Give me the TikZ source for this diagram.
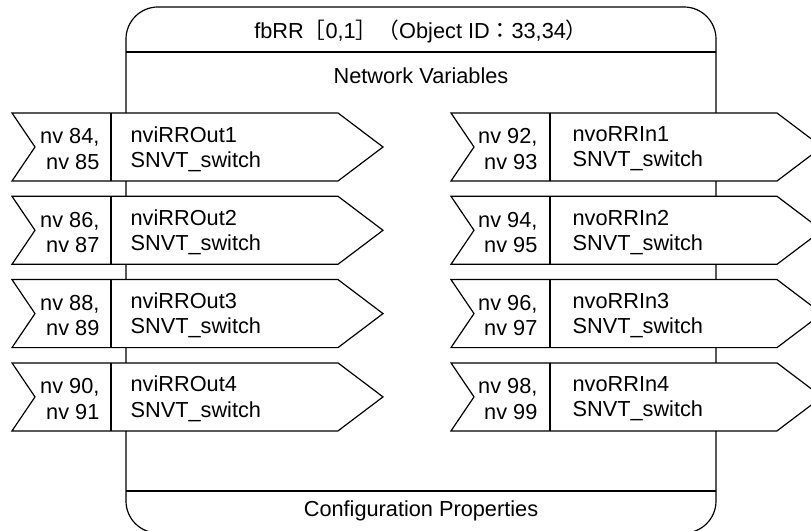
\documentclass[tikz,border=0pt]{standalone}
\usepackage{fontspec}
\setmainfont{Liberation Sans}
\newfontfamily\jpfont{Noto Sans CJK JP}

\def \boxLeft{126}
\def \boxRight{716}
\def \boxTop{7}
\def \boxBottom{533}
\def \boxCenterX{421}
\def \titleLineY{52}
\def \configLineY{491}
\def \rowTop{113}
\def \rowPitch{83.3}
\def \rowHeight{68}
\def \inArrowX{12}
\def \outArrowX{451}
\def \arrowLength{326}
\def \tipDepth{45}
\def \notchDepth{23}
\def \labelWidth{99}

\tikzset{
  signalbox/.style={draw, fill=white},
  nvtext/.style={anchor=east, align=right, inner sep=0},
  nametext/.style={anchor=west, align=left, inner sep=0},
}

\begin{document}
\begin{tikzpicture}[x=0.75pt, y=-0.75pt, line width=0.9pt, font=\fontsize{16.3}{19}\selectfont]
\useasboundingbox (0,0) rectangle (811,531);
% ---- Function block
\draw[rounded corners=24] (\boxLeft, \boxTop) rectangle (\boxRight, \boxBottom);
\draw (\boxLeft, \titleLineY) -- (\boxRight, \titleLineY);
\draw (\boxLeft, \configLineY) -- (\boxRight, \configLineY);
% ---- Headers
\node (title) at (\boxCenterX, 31) {fbRR{\jpfont［}0,1{\jpfont］（}Object ID{\jpfont：}33,34{\jpfont）}};
\node (nvHeader) at (\boxCenterX, 76) {Network Variables};
\node (cpHeader) at (\boxCenterX, 511) {Configuration Properties};

% ---- Network variables
\foreach \inA/\inB/\outA/\outB [count=\n] in {84/85/92/93, 86/87/94/95, 88/89/96/97, 90/91/98/99} {
  \pgfmathsetmacro{\y}{\rowTop + (\n - 1) * \rowPitch}
  % ---- Input
  \path[signalbox] (\inArrowX, \y) -- ++(\arrowLength, 0) -- ++(\tipDepth, \rowHeight / 2) -- ++(-\tipDepth, \rowHeight / 2) -- ++(-\arrowLength, 0) -- ++(\notchDepth, -\rowHeight / 2) -- cycle;
  \draw (\inArrowX + \labelWidth, \y) -- ++(0, \rowHeight);
  \node[nvtext] (nviNum\n) at (\inArrowX + 88, \y + \rowHeight / 2 + 2) {nv \inA,\\nv \inB};
  \node[nametext] (nviName\n) at (\inArrowX + 118, \y + \rowHeight / 2 + 2) {nviRROut\n\\SNVT\_switch};
  % ---- Output
  \path[signalbox] (\outArrowX, \y) -- ++(\arrowLength, 0) -- ++(\tipDepth, \rowHeight / 2) -- ++(-\tipDepth, \rowHeight / 2) -- ++(-\arrowLength, 0) -- ++(\notchDepth, -\rowHeight / 2) -- cycle;
  \draw (\outArrowX + \labelWidth, \y) -- ++(0, \rowHeight);
  \node[nvtext] (nvoNum\n) at (\outArrowX + 87, \y + \rowHeight / 2 + 2) {nv \outA,\\nv \outB};
  \node[nametext] (nvoName\n) at (\outArrowX + 121, \y + \rowHeight / 2 + 2) {nvoRRIn\n\\SNVT\_switch};
}
\end{tikzpicture}
\end{document}
